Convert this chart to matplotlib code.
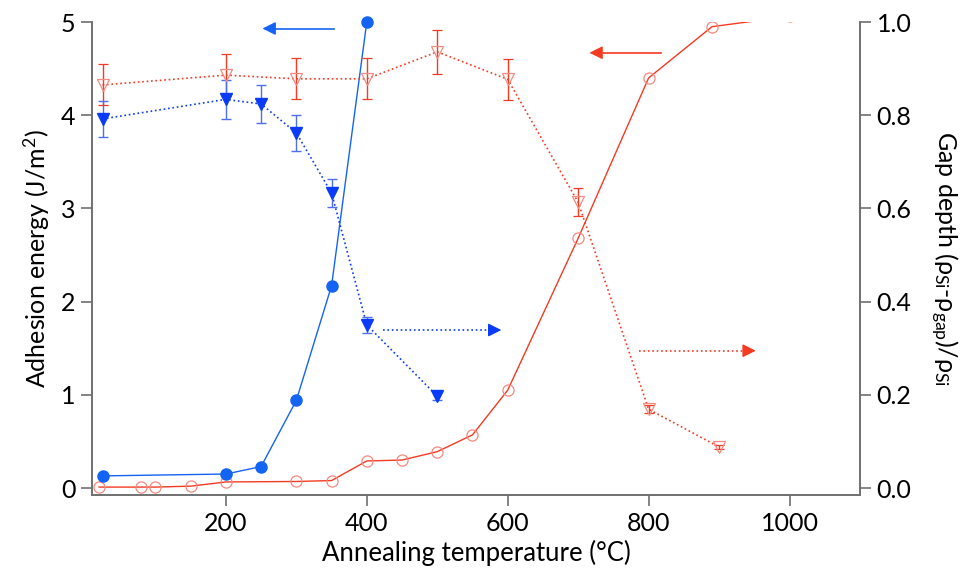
import matplotlib
matplotlib.use("Agg")
import matplotlib.pyplot as plt

plt.rcParams['font.family'] = ['Lato', 'DejaVu Sans']
plt.rcParams['mathtext.fontset'] = 'custom'
plt.rcParams['mathtext.rm'] = 'Lato'
plt.rcParams['mathtext.it'] = 'Lato'

# Adhesion energy (left axis), blue filled circles
blue_c_x = [25, 200, 250, 300, 350, 400]
blue_c_y = [0.13, 0.15, 0.23, 0.94, 2.17, 5.0]

# Adhesion energy (left axis), red open circles
red_c_x = [20, 80, 100, 150, 200, 300, 350, 400, 450, 500, 550, 600, 700, 800, 890, 1000]
red_c_y = [0.01, 0.01, 0.01, 0.02, 0.065, 0.07, 0.08, 0.29, 0.30, 0.39, 0.57, 1.05, 2.68, 4.40, 4.95, 5.06]

# Gap depth (right axis), blue filled triangles
blue_t_x = [25, 200, 250, 300, 350, 400, 500]
blue_t_y = [0.792, 0.834, 0.824, 0.762, 0.633, 0.350, 0.197]
blue_t_e = [0.039, 0.042, 0.041, 0.038, 0.031, 0.017, 0.008]

# Gap depth (right axis), red open triangles
red_t_x = [25, 200, 300, 400, 500, 600, 700, 800, 900]
red_t_y = [0.865, 0.886, 0.878, 0.878, 0.936, 0.877, 0.613, 0.169, 0.088]
red_t_e = [0.044, 0.045, 0.044, 0.044, 0.047, 0.044, 0.030, 0.009, 0.005]

x_ticks = [200, 400, 600, 800, 1000]
left_ticks = [0, 1, 2, 3, 4, 5]
right_ticks = [0.0, 0.2, 0.4, 0.6, 0.8, 1.0]

BLUE_C = '#1464F4'
BLUE_T = '#0A3CF8'
BLUE_E = '#4F6EF0'
RED = '#F53A22'
RED_M = '#F58A80'

fig = plt.figure(figsize=(9.73, 5.8), dpi=100)
ax = fig.add_axes([92/973, 1-495/580, (860-92)/973, (495-22)/580])
ax2 = ax.twinx()

ax.set_xlim(10, 1100)
ax.set_ylim(-0.075, 5.0)
ax2.set_ylim(-0.015, 1.0)

# left-axis series
ax.plot(red_c_x, red_c_y, '-', color=RED, lw=1.0, marker='o', ms=8,
        mfc='none', mec=RED_M, mew=0.9, zorder=3)
ax.plot(blue_c_x, blue_c_y, '-', color=BLUE_C, lw=1.0, marker='o', ms=8,
        mfc=BLUE_C, mec=BLUE_C, zorder=4, clip_on=False)

# right-axis series
ax2.errorbar(red_t_x, red_t_y, yerr=red_t_e, fmt='v', ms=8.5, mfc='none', mec=RED_M,
             mew=0.9, ecolor=RED, elinewidth=1.0, capsize=3.8, capthick=1.0, zorder=3)
ax2.plot(red_t_x, red_t_y, ':', color=RED, lw=1.2, zorder=2)
ax2.errorbar(blue_t_x, blue_t_y, yerr=blue_t_e, fmt='v', ms=8.5, mfc=BLUE_T, mec=BLUE_T,
             ecolor=BLUE_E, elinewidth=1.0, capsize=3.8, capthick=1.0, zorder=3)
ax2.plot(blue_t_x, blue_t_y, ':', color=BLUE_T, lw=1.2, zorder=2)

# arrows: shaft drawn as a line, solid head drawn separately
def arrow(axis, x0, x1, y, color, ls):
    direction = 1 if x1 > x0 else -1
    head_len = 16
    axis.plot([x0, x1 - direction * head_len * 0.5], [y, y], ls=ls, color=color, lw=1.2)
    axis.annotate('', xy=(x1, y), xytext=(x1 - direction * head_len, y),
                  arrowprops=dict(arrowstyle='-|>', color=color, lw=1.0, ls='-',
                                  mutation_scale=20, shrinkA=0, shrinkB=0))

arrow(ax, 354, 252, 4.93, BLUE_C, '-')
arrow(ax, 818, 716, 4.67, RED, '-')
arrow(ax, 423, 591, 1.695, BLUE_T, ':')
arrow(ax, 786, 952, 1.473, RED, ':')

# axes styling
for a in (ax, ax2):
    a.spines['top'].set_visible(False)
    for s in ('left', 'right', 'bottom'):
        a.spines[s].set_color('#707070')
        a.spines[s].set_linewidth(1.2)
    a.tick_params(direction='out', length=8, width=1.2, color='#707070',
                  labelsize=18, pad=4)

ax.set_xticks(x_ticks)
ax.set_yticks(left_ticks)
ax.set_yticklabels([str(v) for v in left_ticks])
ax2.set_yticks(right_ticks)
ax2.set_yticklabels([f'{v:.1f}' for v in right_ticks])

ax.set_xlabel('Annealing temperature (°C)', fontsize=18.5, labelpad=4)
ax.set_ylabel('Adhesion energy (J/m$^2$)', fontsize=18, labelpad=6)
ax2.set_ylabel(r'Gap depth ($\rho_{\mathrm{Si}}$-$\rho_{\mathrm{gap}}$)/$\rho_{\mathrm{Si}}$',
               fontsize=18, rotation=-90, labelpad=34)

fig.savefig('out.png', dpi=100)
